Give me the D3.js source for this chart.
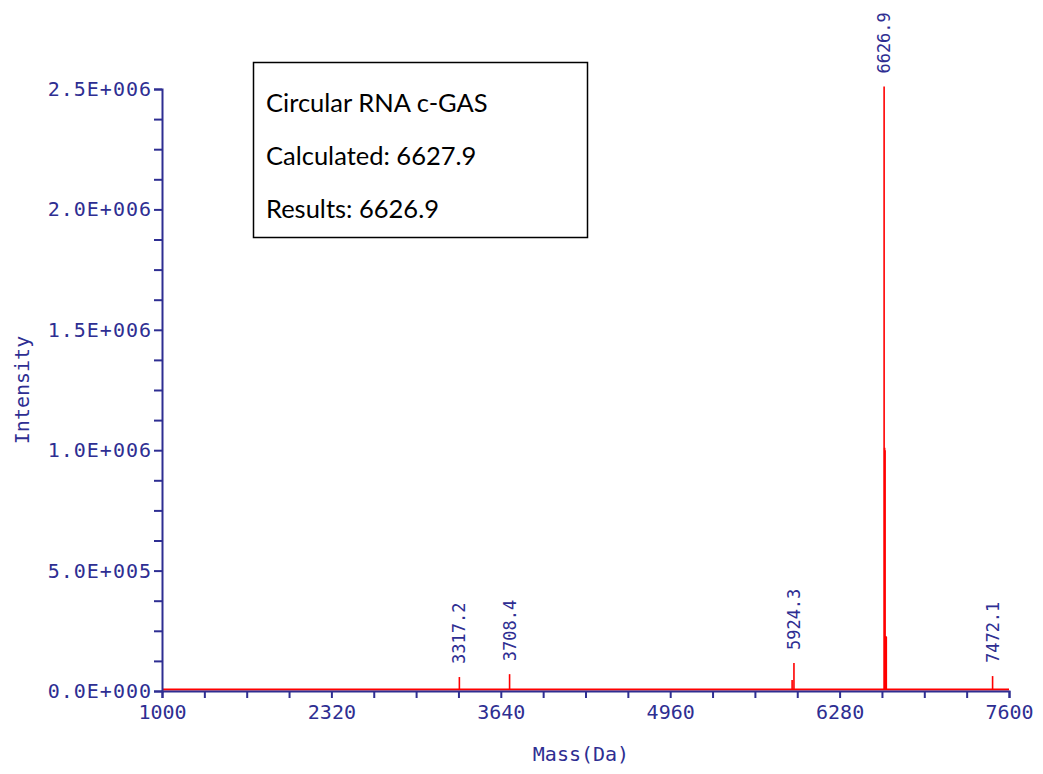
<!DOCTYPE html>
<html>
<head>
<meta charset="utf-8">
<script src="https://cdn.jsdelivr.net/npm/d3@7"></script>
<style>
  body { margin: 0; background: #fff; }
  svg { display: block; }
  .axis text { font-family: "DejaVu Sans Mono", monospace; fill: #2e2e92; }
</style>
</head>
<body>
<svg id="svg"></svg>
<script>
// spectrum sticks: mass (Da), intensity
let stickMass = [3317.2, 3708.4, 5910, 5924.3, 6626.9, 6631, 6634, 6640, 6644, 7472.1];
let stickInt  = [58000, 70000, 46000, 116000, 2510000, 1010000, 1000000, 228000, 225000, 62000];
// labelled peaks
let peakMass  = [3317.2, 3708.4, 5924.3, 6626.9, 7472.1];
let peakInt   = [58000, 70000, 116000, 2510000, 62000];
let peakLabel = ["3317.2", "3708.4", "5924.3", "6626.9", "7472.1"];
// axis ticks
let xMajor = [1000, 2320, 3640, 4960, 6280, 7600];
let xMinorStep = 330;
let yMajor = [0, 500000, 1000000, 1500000, 2000000, 2500000];
let yMinorStep = 125000;
let boxLines = ["Circular RNA c-GAS", "Calculated: 6627.9", "Results: 6626.9"];

let width = 1043, height = 774;
let margin = { top: 89, right: 34, bottom: 83, left: 162 };
let navy = "#2e2e92";

let svg = d3.select("#svg").attr("width", width).attr("height", height);

let xScale = d3.scaleLinear().domain([1000, 7600]).range([margin.left, width - margin.right]);
let yScale = d3.scaleLinear().domain([0, 2500000]).range([height - margin.bottom, margin.top]);

function sciFmt(v) {
    if (v === 0) return "0.0E+000";
    let e = Math.floor(Math.log10(v));
    let m = v / Math.pow(10, e);
    return m.toFixed(1) + "E+" + String(e).padStart(3, "0");
}

let xMinor = d3.range(1000, 7600 + 1, xMinorStep);
let yMinor = d3.range(0, 2500000 + 1, yMinorStep);

// red baseline
svg.append("line")
    .attr("x1", xScale(1000)).attr("x2", xScale(7600))
    .attr("y1", yScale(0) - 1.5).attr("y2", yScale(0) - 1.5)
    .attr("stroke", "#ff0000").attr("stroke-width", 2);

// axes
let xAxis = svg.append("g").attr("class", "axis")
    .attr("transform", `translate(0, ${yScale(0)})`)
    .call(d3.axisBottom(xScale).tickValues(xMinor).tickSizeOuter(0).tickSize(7)
        .tickFormat(d => xMajor.includes(d) ? d : ""));
xAxis.selectAll("text").attr("font-size", 20).attr("dy", "0.72em").attr("y", 14);

let yAxis = svg.append("g").attr("class", "axis")
    .attr("transform", `translate(${xScale(1000)}, 0)`)
    .call(d3.axisLeft(yScale).tickValues(yMinor).tickSizeOuter(0).tickSize(8)
        .tickFormat(d => yMajor.includes(d) ? sciFmt(d) : ""));
yAxis.selectAll("text").attr("font-size", 20).attr("x", -10).attr("letter-spacing", 1);

svg.selectAll(".axis path, .axis line").attr("stroke", navy).attr("stroke-width", 2);

// sticks
svg.append("g").selectAll("line")
    .data(stickMass.map((m, i) => ({ m: m, v: stickInt[i] })))
    .join("line")
    .attr("x1", d => xScale(d.m)).attr("x2", d => xScale(d.m))
    .attr("y1", yScale(0) - 1).attr("y2", d => yScale(d.v))
    .attr("stroke", "#ff0000").attr("stroke-width", 1.6);

// peak labels
svg.append("g").selectAll("text")
    .data(peakMass.map((m, i) => ({ m: m, v: peakInt[i], t: peakLabel[i] })))
    .join("text")
    .attr("transform", d => `translate(${xScale(d.m) + 6}, ${yScale(d.v) - 13}) rotate(-90)`)
    .attr("font-family", "DejaVu Sans Mono, monospace")
    .attr("font-size", 17)
    .attr("fill", navy)
    .text(d => d.t);

// axis titles
svg.append("text")
    .attr("x", 581).attr("y", 761)
    .attr("text-anchor", "middle")
    .attr("font-family", "DejaVu Sans Mono, monospace")
    .attr("font-size", 20).attr("fill", navy)
    .text("Mass(Da)");

svg.append("text")
    .attr("transform", "translate(29, 390) rotate(-90)")
    .attr("text-anchor", "middle")
    .attr("font-family", "DejaVu Sans Mono, monospace")
    .attr("font-size", 20).attr("fill", navy)
    .text("Intensity");

// annotation box
let box = svg.append("g");
box.append("rect")
    .attr("x", 253.5).attr("y", 62.5).attr("width", 334).attr("height", 175)
    .attr("fill", "#fff").attr("stroke", "#000").attr("stroke-width", 1.5);
box.selectAll("text")
    .data(boxLines)
    .join("text")
    .attr("x", 266)
    .attr("y", (d, i) => 112 + i * 53)
    .attr("font-family", "Lato, 'Open Sans', sans-serif")
    .attr("font-size", 25.5)
    .attr("fill", "#000")
    .text(d => d);
</script>
</body>
</html>
